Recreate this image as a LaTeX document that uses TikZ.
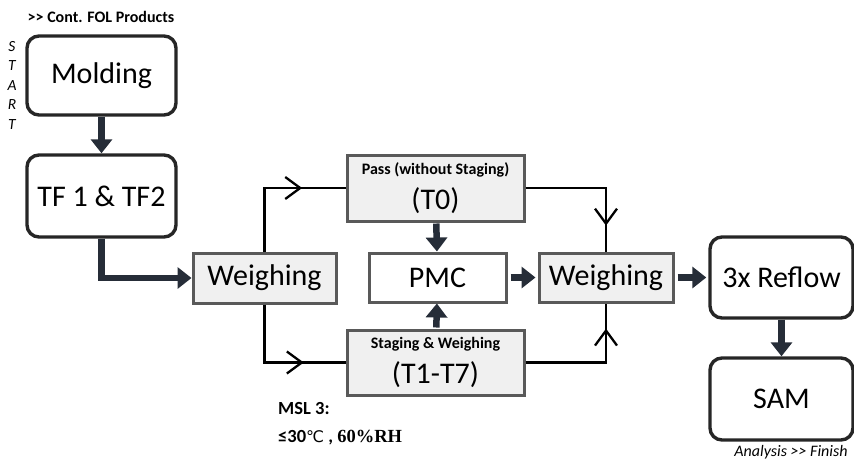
\documentclass[tikz,border=0pt]{standalone}
\usepackage{fontspec}
\setmainfont{Carlito}
\newfontfamily\symbolfont{DejaVu Sans}
\newfontfamily\rhfont{Liberation Serif}
\usepackage{xcolor}
\usepackage{tikz}
\usetikzlibrary{arrows.meta, decorations.markings}
\definecolor{flowColor}{HTML}{262D38}
\definecolor{edgeColor}{HTML}{262626}
\definecolor{greyEdge}{HTML}{595959}
\definecolor{greyFill}{HTML}{F0F0F0}

\begin{document}
\begin{tikzpicture}[x=1pt, y=-1pt,
    stepround/.style={draw=edgeColor, line width=3.4pt, rounded corners=12pt, fill=white,
        font=\fontsize{30}{32}\selectfont, inner sep=0pt},
    stepgrey/.style={draw=greyEdge, line width=3pt, fill=greyFill,
        font=\fontsize{30}{32}\selectfont, inner sep=0pt},
    flow/.style={draw=flowColor, line width=6.5pt, -{Triangle[length=14pt,width=21pt]}},
    branch/.style={draw=black, line width=2.3pt, postaction=decorate,
        decoration={markings, mark=at position #1 with
            {\arrow[line width=2.3pt]{Straight Barb[length=15pt,width=22pt]}}}}
]

    \useasboundingbox (0,0) rectangle (854,464);

    % left column
    \node[stepround, minimum width=149pt, minimum height=79pt] (mold) at (101.5,75.5) {Molding};
    \node[stepround, minimum width=149pt, minimum height=82pt] (tf) at (101.5,196) {TF 1 \& TF2};
    \node[font=\bfseries\fontsize{16}{18}\selectfont] (cont) at (101,17) {>{}> Cont. FOL Products};
    \node[font=\itshape\fontsize{15.5}{19.5}\selectfont, align=center, inner sep=0pt] (start) at (12,85)
        {S\\T\\A\\R\\T};

    % middle part
    \node[stepgrey, minimum width=143pt, minimum height=50pt] (weigh1) at (264.5,278) {Weighing};
    \node[stepgrey, minimum width=177pt, minimum height=66pt, align=center] (pass) at (435.5,188)
        {{\bfseries\fontsize{16}{18}\selectfont Pass (without Staging)}\\[3pt](T0)};
    \node[draw=greyEdge, line width=3pt, fill=white, inner sep=0pt,
        font=\fontsize{30}{32}\selectfont, minimum width=137pt, minimum height=49pt] (pmc) at (437.5,277.5) {PMC};
    \node[stepgrey, minimum width=177pt, minimum height=65pt, align=center] (stag) at (435.5,362.5)
        {{\bfseries\fontsize{16}{18}\selectfont Staging \& Weighing}\\[3pt](T1-T7)};
    \node[stepgrey, minimum width=134pt, minimum height=49pt] (weigh2) at (606,277.5) {Weighing};
    \node[font=\bfseries\fontsize{18.5}{28}\selectfont, align=left, anchor=west, inner sep=0pt] (msl) at (278,424)
        {MSL 3:\\≤30{\mdseries\symbolfont\fontsize{16}{28}\selectfont ℃} , {\rhfont 60\%RH}};

    % right column
    \node[stepround, minimum width=143pt, minimum height=81pt] (reflow) at (781.5,277.5) {3x Reflow};
    \node[stepround, minimum width=143pt, minimum height=82pt] (sam) at (781.5,399) {SAM};
    \node[font=\itshape\fontsize{16}{18}\selectfont] (fin) at (791,452) {Analysis >{}> Finish};

    % connectors
    \draw[flow] (mold) -- (tf);
    \draw[flow] (tf.south) |- (weigh1.west);
    \draw[branch=0.7] (weigh1.north) |- (pass.west);
    \draw[branch=0.7] (weigh1.south) |- (stag.west);
    \draw[branch=0.82] (pass.east) -| (weigh2.north);
    \draw[branch=0.82] (stag.east) -| (weigh2.south);
    \draw[flow, shorten <=1pt] (pass) -- (pmc);
    \draw[flow, shorten <=1pt] (stag) -- (pmc);
    \draw[flow, shorten <=3pt, shorten >=2pt] (pmc) -- (weigh2);
    \draw[flow, shorten <=3pt, shorten >=2pt] (weigh2) -- (reflow);
    \draw[flow] (reflow) -- (sam);
\end{tikzpicture}
\end{document}
